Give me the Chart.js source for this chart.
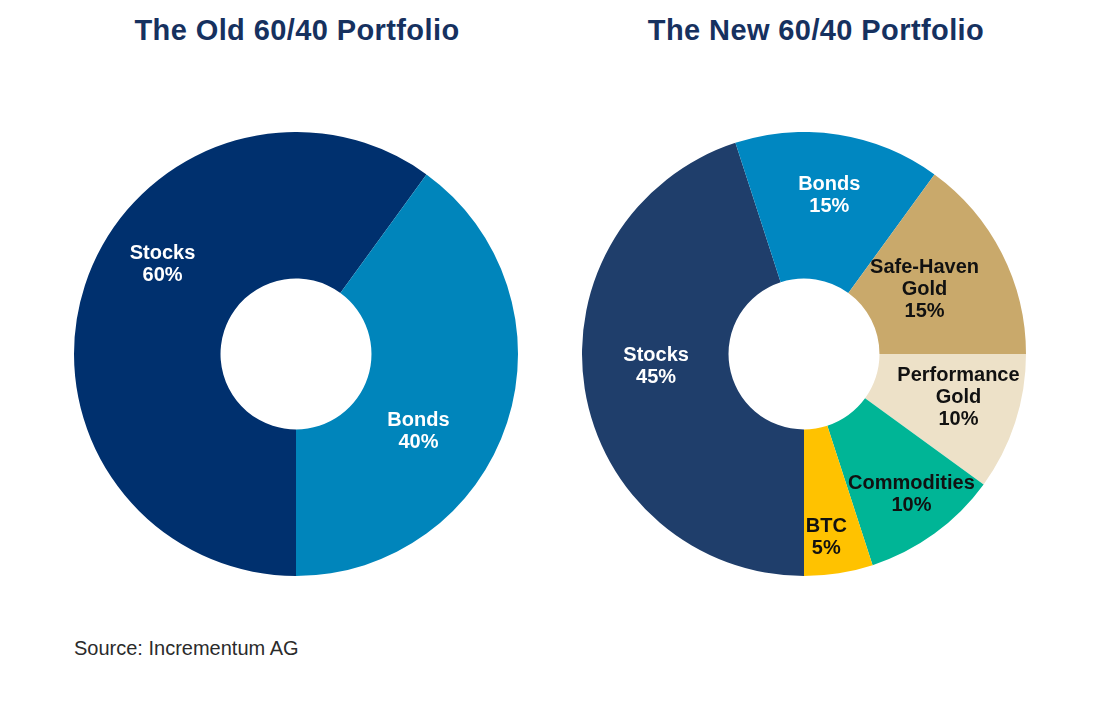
<!DOCTYPE html>
<html>
<head>
<meta charset="utf-8">
<script src="https://cdn.jsdelivr.net/npm/chart.js@4"></script>
<style>
  body { margin: 0; background: #fff; width: 1100px; height: 708px; position: relative; overflow: hidden; }
  .title { position: absolute; top: 14px; font: bold 29px "Liberation Sans", Arial, sans-serif; color: #16315f; text-align: center; width: 500px; letter-spacing: 0.4px; }
  .box { position: absolute; top: 132px; width: 444px; height: 444px; }
  #source { position: absolute; left: 74px; top: 637px; font: 20px "Liberation Sans", Arial, sans-serif; color: #2b2b2b; letter-spacing: 0px; }
</style>
</head>
<body>
<div class="title" style="left:47px">The Old 60/40 Portfolio</div>
<div class="title" style="left:566px">The New 60/40 Portfolio</div>
<div class="box" style="left:74px"><canvas id="oldChart"></canvas></div>
<div class="box" style="left:582px"><canvas id="newChart"></canvas></div>
<div id="source">Source: Incrementum AG</div>
<script>
// Old portfolio
const oldLabels = [["Stocks"], ["Bonds"]];
const oldValues = [60, 40];
const oldColors = ["#00306e", "#0085bb"];
const oldTextColors = ["#ffffff", "#ffffff"];

// New portfolio
const newLabels = [["Stocks"], ["Bonds"], ["Safe-Haven", "Gold"], ["Performance", "Gold"], ["Commodities"], ["BTC"]];
const newValues = [45, 15, 15, 10, 10, 5];
const newColors = ["#1f3e6b", "#0087c1", "#c9a96b", "#ede1c8", "#00b596", "#ffc200"];
const newTextColors = ["#ffffff", "#ffffff", "#111111", "#111111", "#111111", "#111111"];

// label nudges relative to the slice mid point (px)
const oldNudge = [[8, -44], [-19, 32]];
const newNudge = [[-1, -11], [2, -12], [-12, 3], [13, -2], [20, 20], [-1, 37]];

const sliceLabels = {
    id: 'sliceLabels',
    afterDatasetsDraw(chart, args, opts) {
        const ctx = chart.ctx;
        const meta = chart.getDatasetMeta(0);
        const ds = chart.data.datasets[0];
        ctx.save();
        ctx.font = 'bold 20px "Liberation Sans", Arial, sans-serif';
        ctx.textAlign = 'center';
        ctx.textBaseline = 'middle';
        meta.data.forEach((arc, i) => {
            const p = arc.getProps(['x', 'y', 'startAngle', 'endAngle', 'innerRadius', 'outerRadius'], true);
            const mid = (p.startAngle + p.endAngle) / 2;
            const r = (p.innerRadius + p.outerRadius) / 2;
            const n = opts.nudge[i] || [0, 0];
            const cx = p.x + Math.cos(mid) * r + n[0];
            const cy = p.y + Math.sin(mid) * r + n[1];
            const lines = chart.data.labels[i].concat([ds.data[i] + '%']);
            const lh = 22;
            ctx.fillStyle = opts.textColors[i];
            lines.forEach((t, k) => {
                ctx.fillText(t, cx, cy + (k - (lines.length - 1) / 2) * lh);
            });
        });
        ctx.restore();
    }
};

function makeDonut(id, labels, values, colors, textColors, nudge) {
    return new Chart(document.getElementById(id), {
        type: 'doughnut',
        data: {
            labels: labels,
            datasets: [{
                data: values,
                backgroundColor: colors,
                borderWidth: 0
            }]
        },
        options: {
            responsive: true,
            maintainAspectRatio: false,
            animation: false,
            events: [],
            rotation: 180,
            cutout: '34%',
            layout: { padding: 0 },
            plugins: {
                legend: { display: false },
                tooltip: { enabled: false },
                sliceLabels: { textColors: textColors, nudge: nudge }
            }
        },
        plugins: [sliceLabels]
    });
}

makeDonut('oldChart', oldLabels, oldValues, oldColors, oldTextColors, oldNudge);
makeDonut('newChart', newLabels, newValues, newColors, newTextColors, newNudge);
</script>
</body>
</html>
